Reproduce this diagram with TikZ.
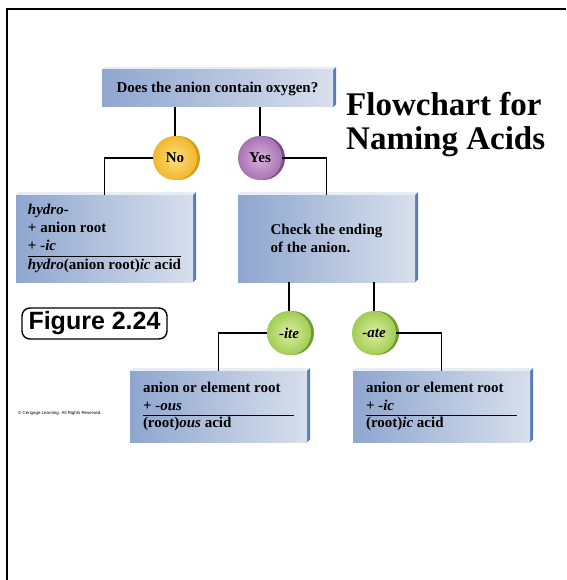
\documentclass[tikz,border=0pt]{standalone}
\usepackage{fontspec}
\setmainfont{Liberation Serif}
\newfontfamily\helv{Liberation Sans}
\usetikzlibrary{backgrounds}
\definecolor{slabL}{HTML}{8FA6CF}
\definecolor{slabR}{HTML}{D8DFEC}
\definecolor{slabtop}{HTML}{E8ECF4}
\definecolor{slabside}{HTML}{5A7DB8}
\definecolor{noIn}{HTML}{FBE07C}
\definecolor{noOut}{HTML}{F2B72E}
\definecolor{noRim}{HTML}{D39A1A}
\definecolor{yesIn}{HTML}{D8B2DC}
\definecolor{yesOut}{HTML}{A872B2}
\definecolor{yesRim}{HTML}{7B4C8A}
\definecolor{endIn}{HTML}{DDEFA2}
\definecolor{endOut}{HTML}{A2CC55}
\definecolor{endRim}{HTML}{6E9E30}
\begin{document}
\begin{tikzpicture}[
    x=1pt, y=-1pt,
    slab/.style={rectangle, left color=slabL, right color=slabR, minimum width=177,
        minimum height=87, align=left, inner sep=0,
        font=\fontsize{15}{18}\selectfont\bfseries},
    disc/.style={circle, minimum size=44, inner sep=0,
        font=\fontsize{15}{18}\selectfont\bfseries},
    link/.style={line width=1.6}
]
\useasboundingbox (0,0) rectangle (566,580);
\draw[line width=2.2] (566,9) -- (7,9) -- (7,580);

% Schema
\node[slab, minimum width=231, minimum height=37] (q) at (217.5,88.5) {Does the anion contain oxygen?};
\node[disc, inner color=noIn, outer color=noOut] (no) at (175,158) {No};
\node[disc, inner color=yesIn, outer color=yesOut] (yes) at (260,158) {Yes};
\node[slab] (hyd) at (104.5,238.5) {\begin{tabular}{@{}l@{}}
    \textit{hydro-}\\
    + anion root\\
    + \textit{-ic}\\ \hline
    \textit{hydro}(anion root)\textit{ic} acid
    \end{tabular}};
\node[slab] (chk) at (326.5,238.5) {Check the ending\\of the anion.};
\node[disc, inner color=endIn, outer color=endOut] (ite) at (289,333) {\textit{-ite}};
\node[disc, inner color=endIn, outer color=endOut] (ate) at (374,333) {\textit{-ate}};
\node[slab, minimum height=71] (ous) at (218.5,406.5) {\begin{tabular}{@{}p{151pt}@{}}
    anion or element root\\
    + \textit{-ous}\\[-1pt] \hline
    (root)\textit{ous} acid
    \end{tabular}};
\node[slab, minimum height=71] (ic) at (441.5,406.5) {\begin{tabular}{@{}p{151pt}@{}}
    anion or element root\\
    + \textit{-ic}\\[-1pt] \hline
    (root)\textit{ic} acid
    \end{tabular}};

\begin{scope}[on background layer]
\fill[white] (0,0) rectangle (566,580);
\foreach \b in {q,hyd,chk,ous,ic} {
    \fill[slabtop] (\b.north west) -- ++(3,-3) -- ([shift={(3,-3)}]\b.north east) -- (\b.north east) -- cycle;
    \fill[slabside] (\b.north east) -- ++(3,-3) -- ([shift={(3,-3)}]\b.south east) -- (\b.south east) -- cycle;
}
\fill[noRim] ([xshift=3]no.center) circle (22);
\fill[yesRim] ([xshift=3]yes.center) circle (22);
\fill[endRim] ([xshift=3]ite.center) circle (22);
\fill[endRim] ([xshift=3]ate.center) circle (22);
\end{scope}

\draw[link] (no.north) -- (no.north |- q.south);
\draw[link] (yes.north) -- (yes.north |- q.south);
\draw[link] (no.west) -| (hyd.north);
\draw[link] (yes.east) -| (chk.north);
\draw[link] (ite.north) -- (ite.north |- chk.south);
\draw[link] (ate.north) -- (ate.north |- chk.south);
\draw[link] (ite.west) -| (ous.north);
\draw[link] (ate.east) -| (ic.north);

% Titolo e note
\node[anchor=north west, align=left, inner sep=0, font=\fontsize{33}{34}\selectfont\bfseries] (title) at (346,92) {Flowchart for\\Naming Acids};
\node[draw, line width=1.4, rounded corners=8, minimum width=145, minimum height=31, inner sep=0,
    font=\helv\bfseries\fontsize{25}{25}\selectfont] (fig) at (94.5,323.5) {Figure 2.24};
\node[anchor=west, inner sep=0, font=\helv\fontsize{4.4}{5}\selectfont] (copy) at (18,413) {© Cengage Learning. All Rights Reserved.};
\end{tikzpicture}
\end{document}
